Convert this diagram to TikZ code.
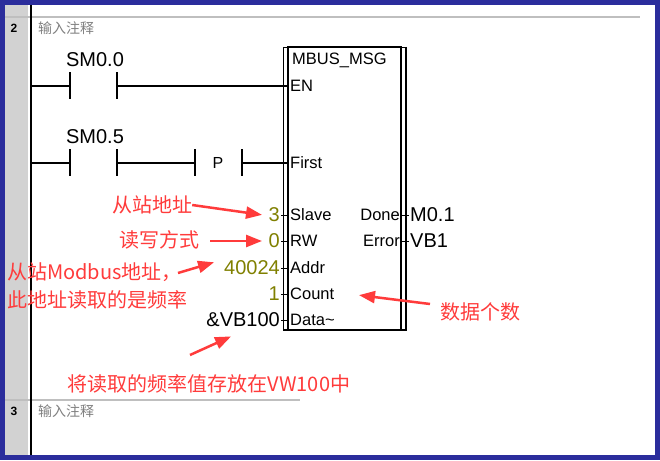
\documentclass[tikz,border=0pt]{standalone}
\usepackage{fontspec}
\setmainfont{Liberation Sans}
\newfontfamily\cjk{Noto Sans CJK SC}
\usetikzlibrary{arrows.meta}
\definecolor{frame}{HTML}{2B2D9C}
\definecolor{olivev}{HTML}{808000}
\definecolor{ann}{HTML}{FF3B3B}
\tikzset{
  wire/.style={line width=1.3pt},
  lbl/.style={font=\fontsize{20}{20}\selectfont, inner sep=0pt},
  pin/.style={font=\fontsize{16.5}{17}\selectfont, inner sep=0pt, anchor=west},
  val/.style={font=\fontsize{20}{20}\selectfont, inner sep=0pt, anchor=east, text=olivev},
  note/.style={font=\cjk\fontsize{20}{28}\selectfont, inner sep=0pt, text=ann},
  fat/.style={ann, line width=2.5pt, -{Triangle[length=16pt,width=12pt]}, shorten >=1pt},
  cmt/.style={font=\cjk\fontsize{14}{14}\selectfont, inner sep=0pt, text=gray, anchor=west},
  num/.style={font=\bfseries\fontsize{12}{12}\selectfont, inner sep=0pt}
}
\begin{document}
\begin{tikzpicture}[x=1pt,y=-1pt]
\useasboundingbox (0,0) rectangle (660,460);
\fill[frame] (0,0) rectangle (660,460);
\fill[white] (5,5) rectangle (655,455);
\fill[gray!35] (5,5) rectangle (28,455);
\draw[gray!50, line width=2pt] (5,17) -- (640,17);
\draw[gray!50, line width=2pt] (5,400) -- (300,400);
\draw[line width=2pt] (31,5) -- (31,455);
\node[num] (n2) at (14,28) {2};
\node[cmt] (c2) at (38,28) {输入注释};
\node[num] (n3) at (14,411) {3};
\node[cmt] (c3) at (38,411) {输入注释};
% rung 1
\coordinate (r1) at (31,86);
\coordinate (a1) at (70,86); \coordinate (b1) at (117,86);
\draw[wire] (r1) -- (a1) (a1)+(0,-14) -- +(0,13) (b1)+(0,-14) -- +(0,13);
\draw[wire] (b1) -- (287,86);
\node[lbl] (sm00) at (95,60) {SM0.0};
% rung 2
\coordinate (r2) at (31,163);
\coordinate (a2) at (70,163); \coordinate (b2) at (117,163);
\coordinate (p1) at (195,163); \coordinate (p2) at (242,163);
\draw[wire] (r2) -- (a2) (a2)+(0,-14) -- +(0,13) (b2)+(0,-14) -- +(0,13);
\draw[wire] (b2) -- (p1) (p1)+(0,-14) -- +(0,13) (p2)+(0,-14) -- +(0,13);
\draw[wire] (p2) -- (287,163);
\node[lbl] (sm05) at (95,137) {SM0.5};
\node[lbl,font=\fontsize{16}{16}\selectfont] (P) at (218,163) {P};
% box
\draw[line width=0.8pt] (283,47) -- (283,330);
\draw[line width=1.6pt] (288,47) -- (288,330) -- (401,330) -- (401,47) -- cycle;
\draw[line width=1.6pt] (406,47) -- (406,330) -- (283,330);
\draw[line width=0.8pt] (283,47) -- (406,47);
\node[pin] (title) at (292,60) {MBUS\_MSG};
\foreach \y/\t in {86/EN,163/First,215/Slave,241/RW,268/Addr,294/Count,320/Data\textasciitilde}{
  \node[pin] at (290,\y) {\t};
  \draw[line width=1pt] (281,\y) -- (288,\y);
}
\node[pin,anchor=east] (done) at (400,215) {Done};
\node[pin,anchor=east] (err) at (400,241) {Error};
\draw[line width=1pt] (401,215) -- (409,215) (401,241) -- (409,241);
\node[lbl,anchor=west] (m01) at (410,215) {M0.1};
\node[lbl,anchor=west] (vb1) at (410,241) {VB1};
\node[val] (v3) at (280,215) {3};
\node[val] (v0) at (280,241) {0};
\node[val] (v4) at (280,268) {40024};
\node[val] (v1) at (280,294) {1};
\node[val,text=black] (vb) at (280,320) {\&VB100};
% annotations
\node[note] (t1) at (152,205) {从站地址};
\node[note] (t2) at (159,240) {读写方式};
\node[note,anchor=west,align=left] (t3) at (7,286) {从站Modbus地址，\\此地址读取的是频率};
\node[note] (t4) at (480,312) {数据个数};
\node[note] (t5) at (209,384) {将读取的频率值存放在VW100中};
\draw[fat] (t1.east) -- (263,215);
\draw[fat] (210,241) -- (263,241);
\draw[fat] (178,273) -- (215,262);
\draw[fat] (430,304) -- (358,295);
\draw[fat] (190,355) -- (232,336);
\end{tikzpicture}
\end{document}
